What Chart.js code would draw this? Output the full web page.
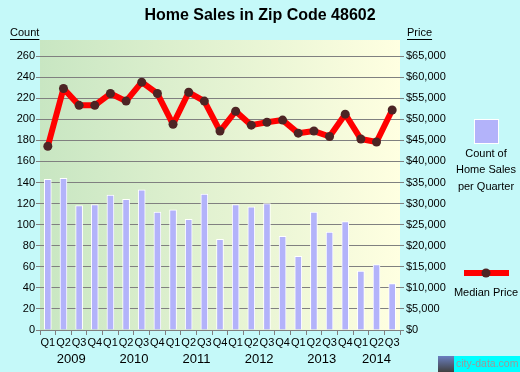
<!DOCTYPE html>
<html>
<head>
<meta charset="utf-8">
<script src="https://cdn.jsdelivr.net/npm/chart.js@4.4.1/dist/chart.umd.min.js"></script>
<style>
html,body{margin:0;padding:0;background:#c5f9f9;}
canvas{display:block;}
</style>
</head>
<body>
<canvas id="c" width="520" height="372"></canvas>
<script>
const quarters = ['Q1','Q2','Q3','Q4','Q1','Q2','Q3','Q4','Q1','Q2','Q3','Q4','Q1','Q2','Q3','Q4','Q1','Q2','Q3','Q4','Q1','Q2','Q3'];
const years = ['2009','2010','2011','2012','2013','2014'];
const salesCount = [143,144,118,119,128,124,133,112,114,105,129,86,119,117,120,89,70,112,93,103,56,62,44];
const medianPrice = [43600,57300,53300,53300,56100,54300,58800,56100,48800,56400,54300,47200,51900,48600,49300,49800,46700,47200,45900,51200,45300,44600,52200];
const countTicks = [0,20,40,60,80,100,120,140,160,180,200,220,240,260];
const priceTicks = [0,5000,10000,15000,20000,25000,30000,35000,40000,45000,50000,55000,60000,65000];

const FONT = '"Liberation Sans", Arial, sans-serif';

const decor = {
  id: 'decor',
  beforeDraw(chart) {
    const ctx = chart.ctx, a = chart.chartArea;
    ctx.save();
    ctx.fillStyle = '#c5f9f9';
    ctx.fillRect(0, 0, chart.width, chart.height);
    const g = ctx.createLinearGradient(a.left, 0, a.right, 0);
    g.addColorStop(0, '#c8e6c2');
    g.addColorStop(1, '#ffffe1');
    ctx.fillStyle = g;
    ctx.fillRect(a.left, a.top, a.right - a.left, a.bottom - a.top);
    ctx.restore();
  },
  afterDraw(chart) {
    const ctx = chart.ctx, x = chart.scales.x;
    ctx.save();
    ctx.fillStyle = '#000';
    ctx.textAlign = 'center';
    ctx.textBaseline = 'middle';
    ctx.font = 'bold 16px ' + FONT;
    ctx.fillText('Home Sales in Zip Code 48602', 260, 16);

    // axis headers
    ctx.font = '11px ' + FONT;
    ctx.textAlign = 'left';
    ctx.fillText('Count', 10, 33);
    let w = ctx.measureText('Count').width;
    ctx.fillRect(10, 39, w, 1);
    ctx.fillText('Price', 407, 33);
    w = ctx.measureText('Price').width;
    ctx.fillRect(407, 39, w, 1);

    // year labels
    ctx.font = '13px ' + FONT;
    ctx.textAlign = 'center';
    years.forEach((y, i) => {
      const first = i * 4;
      const last = Math.min(first + 3, quarters.length - 1);
      const cx = (x.getPixelForValue(first) + x.getPixelForValue(last)) / 2;
      ctx.fillText(y, cx, 359);
    });

    // legend
    ctx.fillStyle = '#ffffff';
    ctx.fillRect(474, 119, 25, 25);
    ctx.fillStyle = '#b3b3fa';
    ctx.fillRect(475, 120, 23, 23);
    ctx.fillStyle = '#000';
    ctx.font = '11px ' + FONT;
    ctx.fillText('Count of', 486, 154);
    ctx.fillText('Home Sales', 486, 170);
    ctx.fillText('per Quarter', 486, 187);

    ctx.fillStyle = '#ff0000';
    ctx.fillRect(464, 270, 45, 6);
    ctx.fillStyle = '#4d2424';
    ctx.beginPath();
    ctx.arc(486, 273, 4.5, 0, Math.PI * 2);
    ctx.fill();
    ctx.fillStyle = '#000';
    ctx.fillText('Median Price', 486, 293);

    // watermark
    const sg = ctx.createLinearGradient(0, 356, 0, 372);
    sg.addColorStop(0, '#6a7fc0');
    sg.addColorStop(1, '#404040');
    ctx.fillStyle = sg;
    ctx.fillRect(438, 356, 16, 16);
    ctx.fillStyle = '#00ffff';
    ctx.fillRect(454, 356, 66, 16);
    ctx.fillStyle = '#9a9a9a';
    ctx.font = '10.5px ' + FONT;
    ctx.textAlign = 'left';
    ctx.fillText('city-data.com', 456, 364);
    ctx.restore();
  }
};

new Chart(document.getElementById('c'), {
  data: {
    labels: quarters,
    datasets: [
      {
        type: 'line',
        data: medianPrice,
        yAxisID: 'y1',
        order: 0,
        borderColor: '#ff0000',
        borderWidth: 6,
        borderJoinStyle: 'round',
        borderCapStyle: 'round',
        pointRadius: 4.5,
        pointBackgroundColor: '#4d2424',
        pointBorderWidth: 0,
        tension: 0
      },
      {
        type: 'bar',
        data: salesCount,
        yAxisID: 'y',
        order: 1,
        backgroundColor: '#b3b3fa',
        borderColor: '#ffffff',
        borderWidth: 1,
        barThickness: 7
      }
    ]
  },
  options: {
    responsive: false,
    animation: false,
    layout: { padding: { top: 40, left: 0, right: 0, bottom: 0 } },
    plugins: { legend: { display: false }, tooltip: { enabled: false } },
    scales: {
      x: {
        afterFit(s) { s.height = 42; },
        offset: true,
        grid: { offset: true, drawOnChartArea: false, tickLength: 5, color: '#808080' },
        border: { display: true, color: '#808080' },
        ticks: { font: { size: 11, family: FONT }, color: '#000', padding: 1, maxRotation: 0, autoSkip: false }
      },
      y: {
        position: 'left',
        min: 0,
        max: 275.2,
        afterFit(s) { s.width = 40; },
        afterBuildTicks(s) { s.ticks = countTicks.map(v => ({ value: v })); },
        grid: { color: '#808080', tickLength: 4 },
        border: { display: false },
        ticks: { font: { size: 11, family: FONT }, color: '#000', padding: 1 }
      },
      y1: {
        position: 'right',
        min: 0,
        max: 68800,
        afterFit(s) { s.width = 120; },
        afterBuildTicks(s) { s.ticks = priceTicks.map(v => ({ value: v })); },
        grid: { drawOnChartArea: false, color: '#808080', tickLength: 4 },
        border: { display: false },
        ticks: {
          font: { size: 11, family: FONT }, color: '#000', padding: 2,
          callback: v => '$' + v.toLocaleString('en-US')
        }
      }
    }
  },
  plugins: [decor]
});
</script>
</body>
</html>
